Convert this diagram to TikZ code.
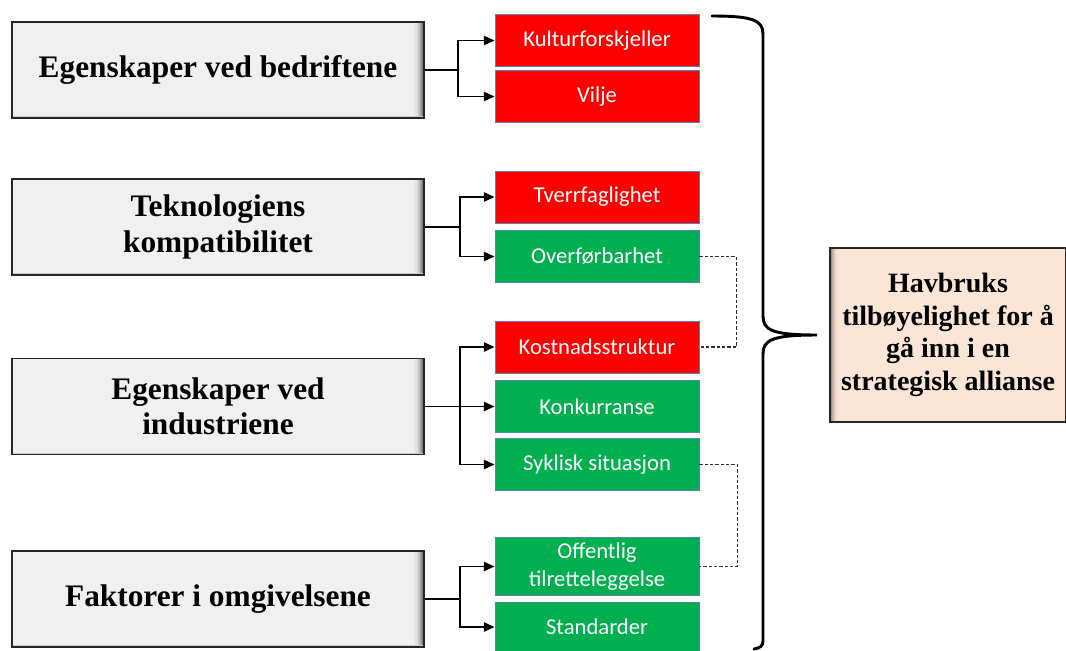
\documentclass[tikz,border=0pt]{standalone}
\usepackage{fontspec}
\setmainfont{Liberation Serif}
\newfontfamily\calfont{Carlito}
\usetikzlibrary{arrows.meta}
\definecolor{lgray}{HTML}{F0F0F0}
\definecolor{myred}{HTML}{FF0000}
\definecolor{mygreen}{HTML}{00B050}
\definecolor{bblue}{HTML}{5B83B4}
\definecolor{peach}{HTML}{FBE5D6}
\begin{document}
\begin{tikzpicture}[x=0.75pt,y=-0.75pt,
  mainbox/.style={draw=black!85, line width=1.2pt, fill=lgray, minimum width=309pt, minimum height=72pt,
    inner sep=0pt, align=center, font=\bfseries\fontsize{23.5}{26.5}\selectfont,
    path picture={
      \foreach \i [evaluate=\i as \c using {\i*\i*0.6}] in {1,...,10}
        \fill[black!\c!lgray] ([xshift={-(11-\i)*0.8pt}]path picture bounding box.north east)
          rectangle ([xshift={-(10-\i)*0.8pt}]path picture bounding box.south east);
      \fill[black!15!lgray] (path picture bounding box.south west) rectangle ([yshift=1.3pt]path picture bounding box.south east);}},
  factor/.style={draw=bblue, line width=0.7pt, minimum width=153pt, minimum height=39pt, inner sep=0pt,
    align=center, text=white, font=\calfont\fontsize{17}{20.5}\selectfont},
  redf/.style={factor, fill=myred},
  greenf/.style={factor, fill=mygreen},
  arr/.style={line width=1pt, -{Triangle[length=8pt,width=7pt]}},
  dashline/.style={line width=0.8pt, black!80, dash pattern=on 2.5pt off 1.5pt},
  goal/.style={draw=black!85, line width=1.2pt, fill=peach, minimum width=177pt, minimum height=130.5pt,
    inner sep=0pt, align=center, font=\bfseries\fontsize{21}{24.5}\selectfont,
    path picture={
      \foreach \i [evaluate=\i as \c using {(9-\i)*(9-\i)*0.7}] in {1,...,8}
        \fill[black!\c!peach] ([xshift={(\i-1)*0.8pt}]path picture bounding box.north west)
          rectangle ([xshift={\i*0.8pt}]path picture bounding box.south west);}}
]
\useasboundingbox (0,0) rectangle (1066,650);

% left boxes
\node[mainbox] (b1) at (218,70) {Egenskaper ved bedriftene};
\node[mainbox] (b2) at (218,227) {Teknologiens\\kompatibilitet};
\node[mainbox] (b3) at (218,406.5) {Egenskaper ved\\industriene};
\node[mainbox] (b4) at (218,599) {Faktorer i omgivelsene};

% factor boxes
\node[redf] (f1) at (597,40.5) {Kulturforskjeller};
\node[redf] (f2) at (597,96.5) {Vilje};
\node[redf] (f3) at (597,197) {Tverrfaglighet};
\node[greenf] (f4) at (597,256.5) {Overførbarhet};
\node[redf] (f5) at (597,347) {Kostnadsstruktur};
\node[greenf] (f6) at (597,406.5) {Konkurranse};
\node[greenf] (f7) at (597,464.5) {Syklisk situasjon};
\node[greenf, minimum height=44pt] (f8) at (597,566.5) {Offentlig\\tilretteleggelse};
\node[greenf, minimum height=37.5pt] (f9) at (597,627) {Standarder};

% goal box
\node[goal] (g) at (948,335) {Havbruks\\tilbøyelighet for å\\gå inn i en\\strategisk allianse};

% connectors
\coordinate (j1) at (458,70);
\coordinate (j2) at (460,227);
\coordinate (j3) at (460,406.5);
\coordinate (j4) at (460,599);
\draw[line width=1pt] (b1.east) -- (j1);
\draw[arr] (j1) |- (f1.west);
\draw[arr] (j1) |- (f2.west);
\draw[line width=1pt] (b2.east) -- (j2);
\draw[arr] (j2) |- (f3.west);
\draw[arr] (j2) |- (f4.west);
\draw[arr] (b3.east) -- (f6.west);
\draw[arr] (j3) |- (f5.west);
\draw[arr] (j3) |- (f7.west);
\draw[line width=1pt] (b4.east) -- (j4);
\draw[arr] (j4) |- (f8.west);
\draw[arr] (j4) |- (f9.west);

% dashed links
\draw[dashline] (f4.east) -- ++(37,0) |- (f5.east);
\draw[dashline] (f7.east) -- ++(38,0) |- (f8.east);

% brace
\coordinate (tip) at (817,335);
\draw[line width=2.2pt, line cap=round]
  (712,16) .. controls (752,16) and (763,20) .. (763,34) -- (763,316)
  .. controls (763,330) and (772,335) .. (tip)
  .. controls (772,335) and (763,340) .. (763,354) -- (763,641)
  .. controls (763,646) and (760,648) .. (754,649);
\end{tikzpicture}
\end{document}
